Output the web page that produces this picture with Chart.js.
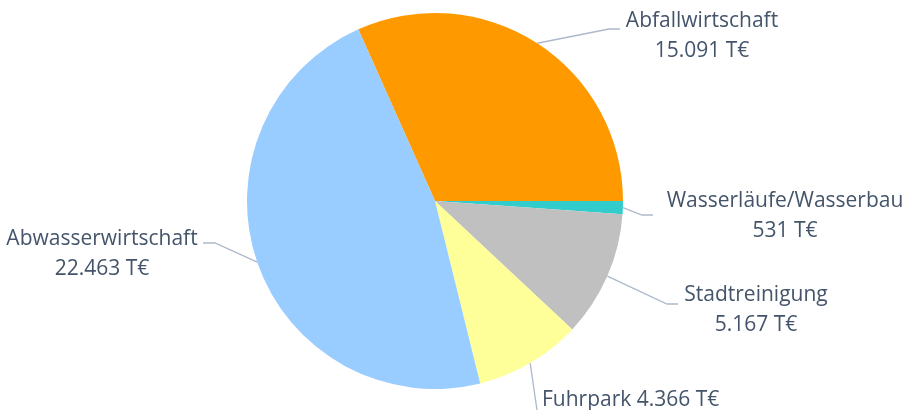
<!DOCTYPE html>
<html lang="de">
<head>
  <meta charset="UTF-8">
  <title>Pie chart</title>
  <script src="https://cdn.jsdelivr.net/npm/chart.js"></script>
  <style>
    html, body { margin: 0; padding: 0; background: #fff; }
    #wrap { position: relative; width: 906px; height: 410px; }
  </style>
</head>
<body>
  <div id="wrap"><canvas id="pieChart"></canvas></div>

  <script>
    const categories = ['Abfallwirtschaft', 'Wasserläufe/Wasserbau', 'Stadtreinigung', 'Fuhrpark', 'Abwasserwirtschaft'];
    const values = [15091, 531, 5167, 4366, 22463];
    const colors = ['#FF9900', '#33CCCC', '#C0C0C0', '#FFFF99', '#99CCFF'];

    // label placement: elbow of leader line, end of leader line, text anchor
    const labelLayout = [
      { elbow: [609, 29], end: [620, 29], text: [702, 21], align: 'center', split: true },
      { elbow: [642, 215], end: [653, 215], text: [785, 201], align: 'center', split: true },
      { elbow: [667, 304], end: [678, 304], text: [756, 295], align: 'center', split: true },
      { elbow: [537, 410], end: [537, 410], text: [542, 400], align: 'left', split: false },
      { elbow: [215, 243], end: [203, 243], text: [102, 239], align: 'center', split: true }
    ];

    const total = values.reduce((a, b) => a + b, 0);
    const fmt = v => String(v).replace(/\B(?=(\d{3})+(?!\d))/g, '.') + ' T€';

    const leaderLabels = {
      id: 'leaderLabels',
      afterDraw(chart) {
        const c = chart.ctx;
        const arcs = chart.getDatasetMeta(0).data;
        c.save();
        arcs.forEach((arc, i) => {
          const lay = labelLayout[i];
          const mid = (arc.startAngle + arc.endAngle) / 2;
          const px = arc.x + Math.cos(mid) * arc.outerRadius;
          const py = arc.y + Math.sin(mid) * arc.outerRadius;
          c.strokeStyle = '#ADB9CA';
          c.lineWidth = 1.3;
          c.beginPath();
          c.moveTo(px, py);
          c.lineTo(lay.elbow[0], lay.elbow[1]);
          c.lineTo(lay.end[0], lay.end[1]);
          c.stroke();

          c.fillStyle = '#44546A';
          c.font = '21px "Open Sans", sans-serif';
          c.textAlign = lay.align;
          c.textBaseline = 'middle';
          if (lay.split) {
            c.fillText(categories[i], lay.text[0], lay.text[1]);
            c.fillText(fmt(values[i]), lay.text[0], lay.text[1] + 30);
          } else {
            c.fillText(categories[i] + ' ' + fmt(values[i]), lay.text[0], lay.text[1]);
          }
        });
        c.restore();
      }
    };

    const ctx = document.getElementById('pieChart').getContext('2d');
    new Chart(ctx, {
      type: 'pie',
      data: {
        labels: categories,
        datasets: [{
          data: values,
          backgroundColor: colors,
          borderWidth: 0
        }]
      },
      options: {
        responsive: true,
        maintainAspectRatio: false,
        animation: false,
        rotation: 90 - values[0] / total * 360,
        layout: { padding: { top: 13, bottom: 21, left: 0, right: 36 } },
        plugins: {
          legend: { display: false },
          tooltip: { enabled: false }
        }
      },
      plugins: [leaderLabels]
    });
  </script>
</body>
</html>
